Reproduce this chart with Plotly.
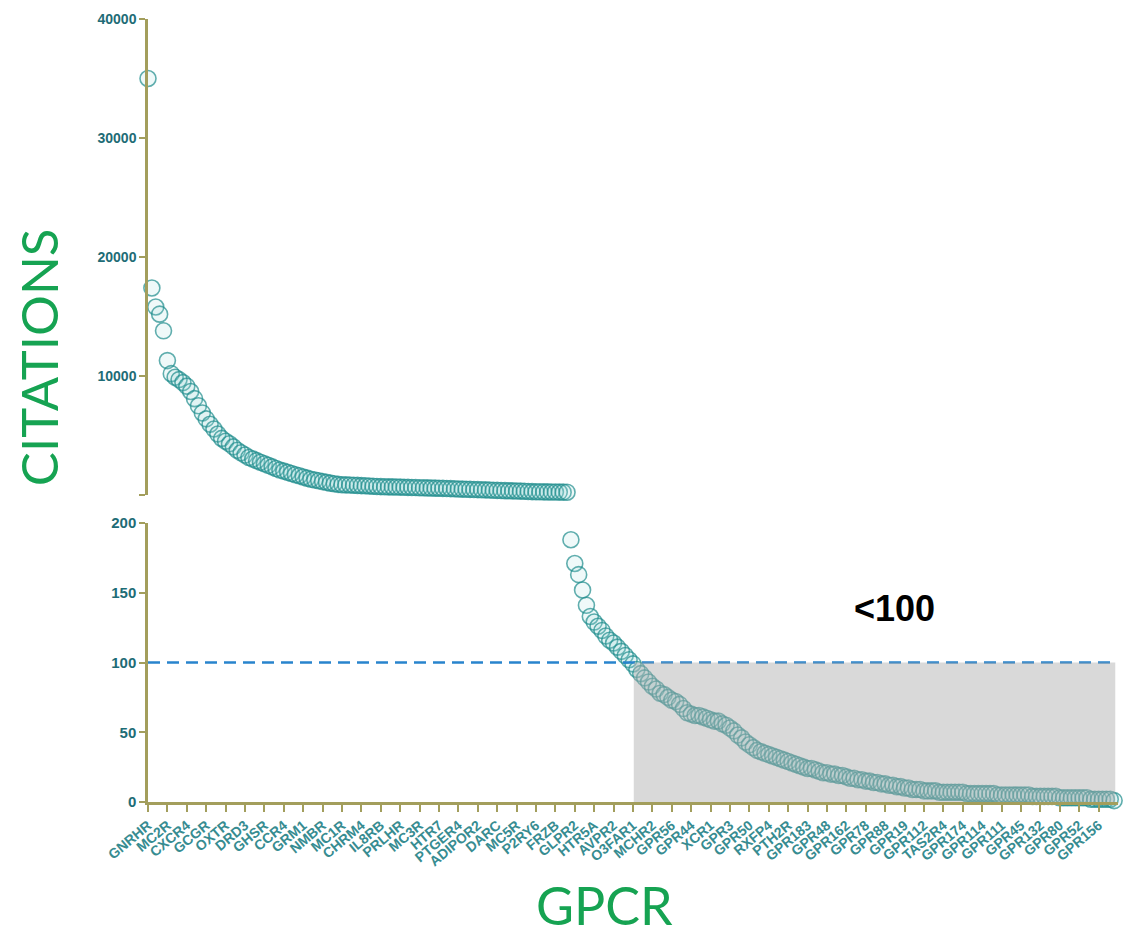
import plotly.graph_objects as go

# ---------------- data ----------------
gpcr_labels = ["GNRHR", "MC2R", "CXCR4", "GCGR", "OXTR", "DRD3", "GHSR", "CCR4", "GRM1", "NMBR",
               "MC1R", "CHRM4", "IL8RB", "PRLHR", "MC3R", "HTR7", "PTGER4", "ADIPOR2", "DARC", "MC5R",
               "P2RY6", "FRZB", "GLPR2", "HTR5A", "AVPR2", "O3FAR1", "MCHR2", "GPR56", "GPR44", "XCR1",
               "GPR3", "GPR50", "RXFP4", "PTH2R", "GPR183", "GPR48", "GPR162", "GPR78", "GPR88", "GPR19",
               "GPR112", "TAS2R4", "GPR174", "GPR114", "GPR111", "GPR45", "GPR132", "GPR80", "GPR52", "GPR156"]
label_every = 5  # one labelled GPCR per 5 ranked receptors

citations_high = [35000, 17400, 15800, 15200, 13800, 11300, 10200,
                  9900, 9700, 9450, 9150, 8700, 8100, 7500, 6900, 6400, 5950, 5550, 5130, 4760, 4520,
                  4310, 4050, 3770, 3560, 3360, 3160, 3030, 2890, 2760, 2630, 2500, 2370, 2230, 2100, 2010,
                  1910, 1810, 1710, 1620, 1520, 1420, 1330, 1260, 1200, 1130, 1070, 1000, 950, 900, 870,
                  860, 850, 830, 810, 795, 780, 760, 745, 725, 710, 700, 690, 685, 675, 670,
                  660, 650, 640, 630, 620, 610, 600, 590,
                  580, 570, 560, 550, 540, 530, 515, 500,
                  490, 480, 470, 460, 450, 440, 425, 410, 395, 380,
                  370, 360, 350, 340, 330, 320, 305, 290,
                  280, 275, 270, 265, 260, 255, 250, 245, 240]
citations_low = [188, 171, 163, 152, 141, 133,
                 129, 126, 123, 119, 116, 114, 111, 108, 105, 102,
                 99, 95, 92, 89, 86, 83, 81, 78, 77, 75,
                 73, 72, 70, 67, 64, 63, 62, 62, 61, 60,
                 59, 58, 58, 56, 55, 53, 51, 48, 46, 43,
                 41, 39, 37, 36, 35, 34, 33, 32, 31, 30,
                 29, 28, 27, 26, 25, 24, 24, 23, 22, 21,
                 21, 20, 20, 19, 19, 18, 17, 17, 16, 16,
                 15, 15, 14, 14, 13, 13, 12, 12, 11, 11,
                 10, 10, 9, 9, 9, 8,
                 8, 8, 8, 7, 7, 7, 7, 7, 7, 7,
                 6, 6, 6, 6, 6, 6, 6, 6, 5, 5,
                 5, 5, 5, 5, 5, 5, 5, 4, 4, 4,
                 4, 4, 4, 4, 3, 3, 3, 3, 3, 3,
                 3, 3, 2, 2, 2, 2, 2, 2, 1]
threshold = 100

citations = citations_high + citations_low
rank = list(range(len(citations)))
split = 200
top_x = [r for r, c in zip(rank, citations) if c >= split]
top_y = [c for c in citations if c >= split]
bot_x = [r for r, c in zip(rank, citations) if c < split]
bot_y = [c for c in citations if c < split]

# ---------------- style ----------------
axis_col = "rgb(163,158,92)"
tick_col = "rgb(30,108,118)"
xtick_col = "rgb(55,140,145)"
green = "rgb(22,163,82)"
marker = dict(symbol="circle", size=16, color="rgba(140,210,210,0.14)",
              line=dict(color="rgba(30,140,140,0.7)", width=1.6))

fig = go.Figure()
fig.add_trace(go.Scatter(x=top_x, y=top_y, xaxis="x2", yaxis="y2", mode="markers",
                         marker=marker, cliponaxis=False, showlegend=False))
fig.add_trace(go.Scatter(x=bot_x, y=bot_y, xaxis="x", yaxis="y", mode="markers",
                         marker=marker, cliponaxis=False, showlegend=False))

first_low = next(i for i, c in enumerate(citations) if c < threshold)
x_end = len(citations) - 0.7

axis_common = dict(showline=True, linecolor=axis_col, linewidth=2.5, ticks="outside",
                   tickcolor=axis_col, tickwidth=2, showgrid=False, zeroline=False,
                   automargin=False)

# the page body adds an 8px offset, so the figure is 8px smaller and margins shifted
fig.update_layout(
    width=1132, height=932,
    margin=dict(l=140, r=22, t=11, b=138),
    plot_bgcolor="white", paper_bgcolor="white",
    xaxis=dict(domain=[0, 1], range=[0, len(citations)], anchor="y",
               tickvals=[i * label_every for i in range(len(gpcr_labels))], ticktext=gpcr_labels,
               tickangle=-40, ticklen=7,
               tickfont=dict(family="Liberation Sans, Arial", size=14, color=xtick_col, weight="bold"),
               **axis_common),
    xaxis2=dict(matches="x", anchor="y2", visible=False),
    yaxis=dict(domain=[0, 0.3563], range=[0, 200], anchor="x",
               tickvals=[0, 50, 100, 150, 200], ticklen=6,
               tickfont=dict(family="Liberation Sans, Arial", size=15, color=tick_col, weight="bold"),
               **axis_common),
    yaxis2=dict(domain=[0.392, 1], range=[0, 40000], anchor="x2",
                tickvals=[0, 10000, 20000, 30000, 40000],
                ticktext=["", "10000", "20000", "30000", "40000"], ticklen=6,
                tickfont=dict(family="Liberation Sans, Arial", size=14, color=tick_col, weight="bold"),
                **axis_common),
    shapes=[
        dict(type="line", xref="x", yref="y", x0=0, x1=x_end, y0=threshold, y1=threshold,
             line=dict(color="rgb(40,132,205)", width=2.5, dash="12px,7px"), layer="above"),
        dict(type="rect", xref="x", yref="y", x0=first_low + 0.2, x1=x_end, y0=0, y1=threshold,
             fillcolor="rgba(172,172,172,0.46)", line=dict(width=0), layer="above"),
    ],
    annotations=[
        dict(text="<b>&lt;100</b>", x=192.5, y=139, xref="x", yref="y", showarrow=False,
             font=dict(family="Liberation Sans, Arial", size=36, color="black")),
        dict(text="CITATIONS", x=-0.1135, y=0.568, xref="paper", yref="paper", showarrow=False,
             textangle=-90, xanchor="center", yanchor="middle",
             font=dict(family="Lato", size=51, color=green)),
        dict(text="GPCR", x=0.471, y=-0.1315, xref="paper", yref="paper", showarrow=False,
             xanchor="center", yanchor="middle",
             font=dict(family="Lato", size=52, color=green)),
    ],
)

fig.write_html("out.html")
